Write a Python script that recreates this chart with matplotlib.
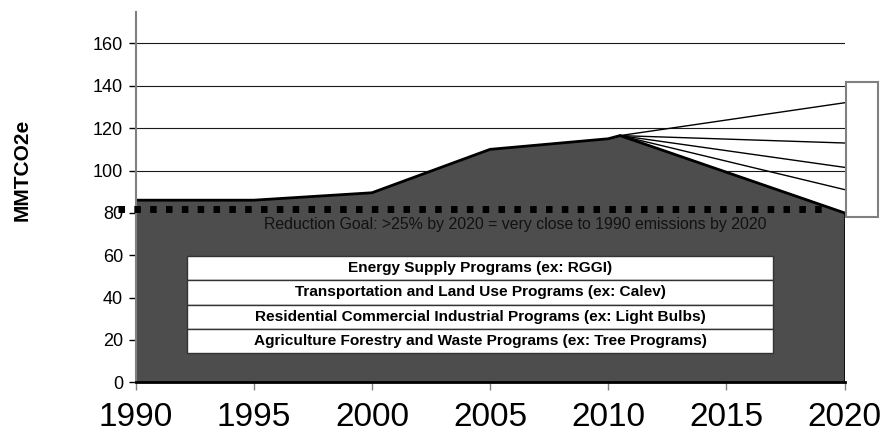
import matplotlib
matplotlib.use("Agg")
import matplotlib.pyplot as plt
from matplotlib import font_manager
from matplotlib.patches import Rectangle

# ---- data ----
years = [1990, 1995, 2000, 2005, 2010, 2010.5, 2020]
emissions = [86, 86, 89.5, 110, 115, 116.5, 80]
fan_start_year = 2010.5
fan_start_value = 116.5
fan_end_year = 2020
fan_end_values = [132, 113, 101.5, 91, 80]
range_low, range_high = 78, 142
goal_value = 82
goal_text = "Reduction Goal: >25% by 2020 = very close to 1990 emissions by 2020"
programs = [
    "Energy Supply Programs (ex: RGGI)",
    "Transportation and Land Use Programs (ex: Calev)",
    "Residential Commercial Industrial Programs (ex: Light Bulbs)",
    "Agriculture Forestry and Waste Programs (ex: Tree Programs)",
]
xticks = [1990, 1995, 2000, 2005, 2010, 2015, 2020]
yticks = [0, 20, 40, 60, 80, 100, 120, 140, 160]
ylabel = "MMTCO2e"

names = {f.name for f in font_manager.fontManager.ttflist}
base = "Liberation Sans" if "Liberation Sans" in names else "DejaVu Sans"
plt.rcParams['font.family'] = [base, 'DejaVu Sans']

fig = plt.figure(figsize=(8.85, 4.38), dpi=100)
ax = fig.add_axes([135.7 / 885, (438 - 382.3) / 438, 708.8 / 885, (382.3 - 11.7) / 438])
ax.set_xlim(1990, 2020)
ax.set_ylim(0, 175)

# gridlines
for v in yticks[1:]:
    ax.axhline(v, color='#1a1a1a', lw=0.8, zorder=1)

# area
ax.fill_between(years, emissions, 0, facecolor='#4d4d4d', edgecolor='none', zorder=2)
ax.plot(years, emissions, color='black', lw=2.0, zorder=3, solid_joinstyle='miter')
ax.plot([years[-1], years[-1]], [0, emissions[-1]], color='black', lw=2.0, zorder=3)

# fan lines
for v in fan_end_values:
    ax.plot([fan_start_year, fan_end_year], [fan_start_value, v], color='black', lw=1.0, zorder=3)

# range box
ax.add_patch(Rectangle((2020.05, range_low), 1.35, range_high - range_low,
                       facecolor='white', edgecolor='#808080', lw=1.5, clip_on=False, zorder=4))

# goal line
lw_goal = 5.0
ax.plot([1989.25, 2019.4], [goal_value, goal_value], color='black', lw=lw_goal,
        linestyle=(0, (4.7 / lw_goal, 6.7 / lw_goal)), dash_capstyle='butt',
        clip_on=False, zorder=5)
ax.text(2006.05, 74.7, goal_text, ha='center', va='center', fontsize=11.4,
        color='#111111', zorder=6)

# program table
x0, x1 = 1992.17, 2016.97
top, bottom = 59.6, 13.8
rh = (top - bottom) / len(programs)
for i, p in enumerate(programs):
    y = top - (i + 1) * rh
    ax.add_patch(Rectangle((x0, y), x1 - x0, rh, facecolor='white', edgecolor='#333333',
                           lw=1.0, zorder=6))
    ax.text((x0 + x1) / 2, y + rh / 2, p, ha='center', va='center', fontsize=11.1,
            fontweight='bold', color='black', zorder=7)

# axes styling
for s in ['top', 'right']:
    ax.spines[s].set_visible(False)
ax.spines['left'].set_color('#808080')
ax.spines['left'].set_linewidth(1.5)
ax.spines['left'].set_zorder(4)
ax.spines['bottom'].set_color('black')
ax.spines['bottom'].set_linewidth(2.0)
ax.spines['bottom'].set_zorder(4)

ax.set_yticks(yticks)
ax.set_yticklabels([str(v) for v in yticks], fontsize=13)
ax.tick_params(axis='y', length=5, width=1, color='black', pad=4)
ax.set_xticks(xticks)
ax.set_xticklabels([str(v) for v in xticks], fontsize=24)
ax.tick_params(axis='x', length=6, width=1, color='#808080', pad=8)

fig.text(22 / 885, 1 - 170 / 438, ylabel, rotation=90, ha='center', va='center',
         fontsize=15, fontweight='bold')

fig.savefig("out.png", dpi=100)
